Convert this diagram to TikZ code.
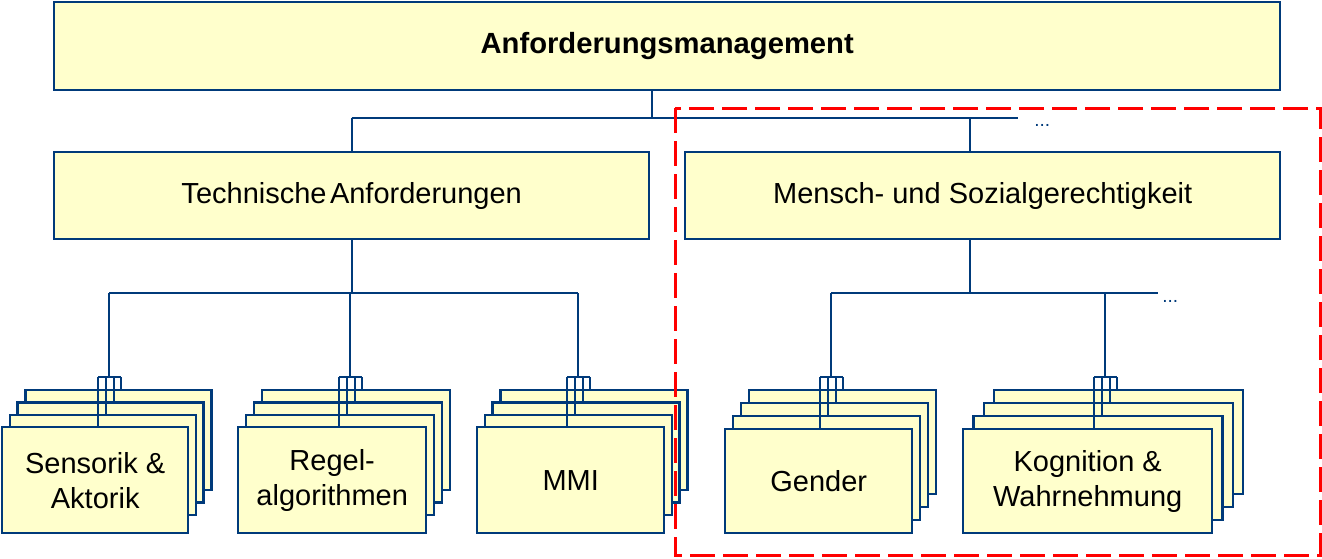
\documentclass[tikz,border=0pt]{standalone}
\usepackage{fontspec}
\setmainfont{Liberation Sans}
\definecolor{cardyellow}{HTML}{FFFFCC}
\definecolor{lineblue}{HTML}{003A7A}
\definecolor{markred}{HTML}{FF0000}

\begin{document}
\begin{tikzpicture}[
  x=0.5pt, y=-0.5pt,
  font=\fontsize{14.5}{17.5}\selectfont,
  every node/.style={align=center},
  headbox/.style={rectangle, draw=lineblue, fill=cardyellow, line width=1.2pt,
                  inner sep=0pt, anchor=north west},
  card/.style={headbox},
  link/.style={draw=lineblue, line width=1pt},
  morelab/.style={font=\fontsize{9.5}{9.5}\selectfont, text=lineblue, inner sep=0pt},
  focusframe/.style={draw=markred, line width=1.5pt, dash pattern=on 12.5pt off 4pt}
]
\useasboundingbox (0,0) rectangle (1322,558);

% ---- Top layer ----------------------------------------------------------------
\node[headbox, minimum width=613pt, minimum height=44pt,
      font=\fontsize{14.6}{17.5}\selectfont\bfseries] (anf) at (53,1)
  {Anforderungsmanagement};

% ---- Second layer -------------------------------------------------------------
\node[headbox, minimum width=297.5pt, minimum height=43.5pt] (tech) at (53,151)
  {\raisebox{-1pt}{Technische\hspace{0.12em}Anforderungen}};
\node[headbox, minimum width=297.5pt, minimum height=43.5pt] (mens) at (684,151)
  {\raisebox{-1pt}{Mensch- und Sozialgerechtigkeit}};

% upper bus
\coordinate (topJ) at (652,118);
\coordinate (techJ) at (tech.north |- topJ);
\coordinate (mensJ) at (970,118);
\coordinate (busEnd) at (1018,118);
\draw[link] (anf.south -| topJ) -- (topJ);
\draw[link] (techJ) -- (busEnd);
\draw[link] (techJ) -- (tech.north);
\draw[link] (mensJ) -- (mensJ |- mens.north);
\node[morelab, anchor=base west] (moreTop) at ([xshift=8pt,yshift=-4pt]busEnd) {...};

% lower buses
\coordinate (techB) at (tech.south |- 0,293);
\coordinate (techL) at (109,293);
\coordinate (techR) at (578,293);
\draw[link] (tech.south) -- (techB);
\draw[link] (techL) -- (techR);

\coordinate (mensB) at (970,293);
\coordinate (mensL) at (831,293);
\coordinate (mensEnd) at (1158,293);
\draw[link] (mensB |- mens.south) -- (mensB);
\draw[link] (mensL) -- (mensEnd);
\node[morelab, anchor=base west] (moreLow) at ([xshift=2pt,yshift=-4.5pt]mensEnd) {...};

% ---- Card stacks --------------------------------------------------------------
\foreach \nm/\x/\y/\w/\h/\bh/\dx/\j/\txt in {
    sen/1/426/186/106/100/7.7/109/{Sensorik \&\\Aktorik},
    reg/237/426/188/106/100/8/350/{Regel-\\algorithmen},
    mmi/476/426/187/106/100/7.7/578/{MMI},
    gen/724/428/187/104/104/8/831/{Gender},
    kog/962/428/249/104/104/10.3/1105/{Kognition \&\\Wahrnehmung}}
{
  \foreach \k in {3,2,1}
    \node[card, minimum width=\w*0.5pt, minimum height=\bh*0.5pt]
      (\nm\k) at ({\x+\k*\dx},{\y-\k*(\y-389)/3}) {};
  \node[card, minimum width=\w*0.5pt, minimum height=\h*0.5pt] (\nm0) at (\x,\y) {\txt};
  \coordinate (\nm-j) at (\j,377);
  \draw[link] (\nm-j |- techL) -- (\nm-j);
  \draw[link] ([xshift=-5.5pt]\nm-j) -- ([xshift=6.2pt]\nm-j);
  \foreach \k/\o in {0/-11,1/-3.3,2/4.5,3/12.3} {
    \coordinate (\nm-b\k) at ({\j+\o},377);
    \draw[link] (\nm-b\k) -- (\nm-b\k |- \nm\k.north);
  }
}

% ---- Focus frame --------------------------------------------------------------
\coordinate (frameNW) at (675,108);
\coordinate (frameSE) at (1320,555);
\draw[focusframe] (frameNW) rectangle (frameSE);

\end{tikzpicture}
\end{document}
